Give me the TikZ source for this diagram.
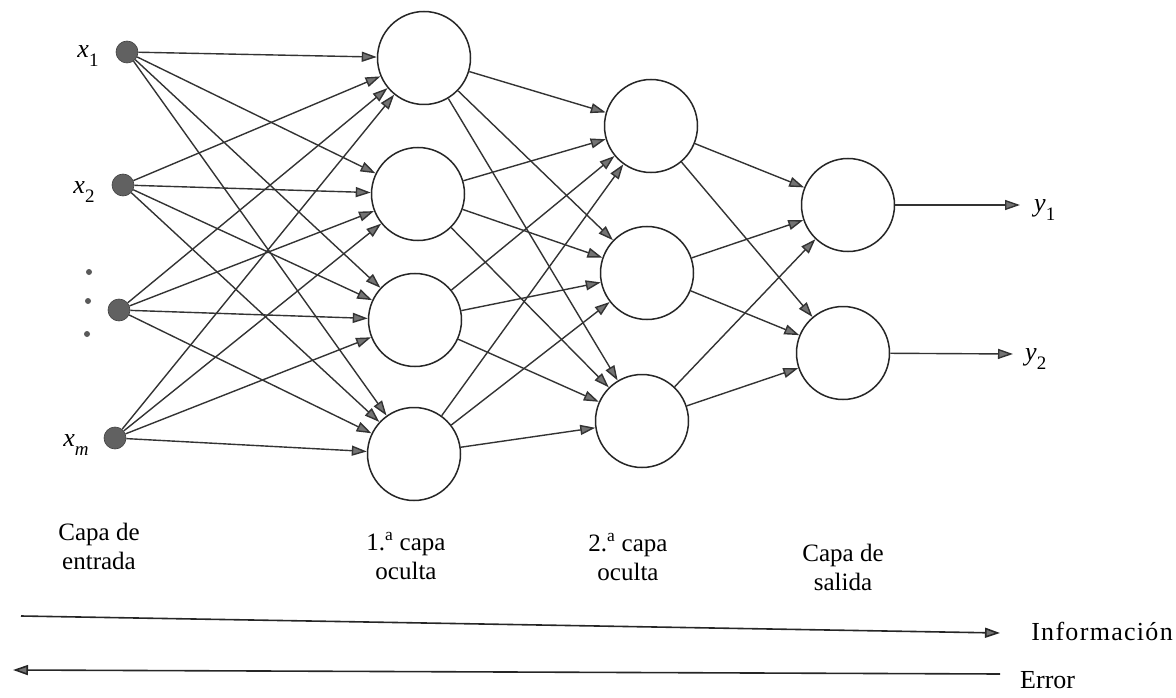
\documentclass[tikz,border=0pt]{standalone}
\usepackage{fontspec}
\setmainfont{Liberation Serif}
\usetikzlibrary{arrows.meta}
\begin{document}
\begin{tikzpicture}[x=1pt,y=-1pt,
  neuron/.style={circle,draw=black!85,line width=1.5pt,minimum size=93pt,inner sep=0pt,fill=white},
  inp/.style={circle,fill=black!62,draw=black!75,line width=0.6pt,minimum size=22pt,inner sep=0pt},
  smalldot/.style={circle,fill=black!65,minimum size=6pt,inner sep=0pt},
  tip/.style={-{Triangle[length=15pt,width=10pt,fill=black!55]}},
  conn/.style={draw=black!80,line width=1.4pt,tip},
  flow/.style={draw=black!85,line width=1.6pt},
  lbl/.style={font=\fontsize{25}{29}\selectfont,align=center,inner sep=0pt},
  vlbl/.style={font=\fontsize{26}{26}\selectfont,inner sep=0pt}
]
\useasboundingbox (0,0) rectangle (1176,698);
% input layer
\node[inp] (i1) at (127,52) {};
\node[inp] (i2) at (123,185) {};
\node[inp] (i3) at (119,310) {};
\node[inp] (i4) at (115,438) {};
\node[smalldot] (d1) at (89,272) {};
\node[smalldot] (d2) at (88,301) {};
\node[smalldot] (d3) at (87,334) {};
\node[vlbl] (lx1) at (88,56) {\textit{x}\raisebox{-0.35em}{\fontsize{19}{19}\selectfont 1}};
\node[vlbl] (lx2) at (84,192) {\textit{x}\raisebox{-0.35em}{\fontsize{19}{19}\selectfont 2}};
\node[vlbl] (lxm) at (76,445) {\textit{x}\raisebox{-0.35em}{\fontsize{19}{19}\selectfont\textit{m}}};
% first hidden layer
\node[neuron] (a1) at (424,58) {};
\node[neuron] (a2) at (418,194) {};
\node[neuron] (a3) at (415,320) {};
\node[neuron] (a4) at (414,454) {};
% second hidden layer
\node[neuron] (b1) at (651,126) {};
\node[neuron] (b2) at (647,273) {};
\node[neuron] (b3) at (642,421) {};
% output layer
\node[neuron] (c1) at (848,205) {};
\node[neuron] (c2) at (843,353) {};
% connections
\foreach \i in {1,...,4}{\foreach \j in {1,...,4}{\draw[conn] (i\i) -- (a\j);}}
\foreach \i in {1,...,4}{\foreach \j in {1,...,3}{\draw[conn] (a\i) -- (b\j);}}
\foreach \i in {1,...,3}{\foreach \j in {1,2}{\draw[conn] (b\i) -- (c\j);}}
% outputs
\coordinate (y1e) at (1020,205);
\coordinate (y2e) at (1013,354);
\draw[conn] (c1) -- (y1e);
\draw[conn] (c2) -- (y2e);
\node[vlbl,anchor=west] (ly1) at (1034,210) {\textit{y}\raisebox{-0.35em}{\fontsize{19}{19}\selectfont 1}};
\node[vlbl,anchor=west] (ly2) at (1025,359) {\textit{y}\raisebox{-0.35em}{\fontsize{19}{19}\selectfont 2}};
% layer labels
\node[lbl] (l0) at (99,546) {Capa de\\entrada};
\node[lbl] (l1) at (406,556) {1.\textsuperscript{a} capa\\oculta};
\node[lbl] (l2) at (628,557) {2.\textsuperscript{a} capa\\oculta};
\node[lbl] (l3) at (843,567) {Capa de\\salida};
% information / error
\coordinate (inf0) at (21,616);
\coordinate (inf1) at (1000,633);
\coordinate (err0) at (1000,674);
\coordinate (err1) at (13,670);
\draw[flow,tip] (inf0) -- (inf1);
\draw[flow,tip] (err0) -- (err1);
\node[vlbl,anchor=east] (tinf) at (1173,631) {\addfontfeatures{LetterSpace=5}Información};
\node[vlbl,anchor=west] (terr) at (1020,680) {Error};
\end{tikzpicture}
\end{document}
